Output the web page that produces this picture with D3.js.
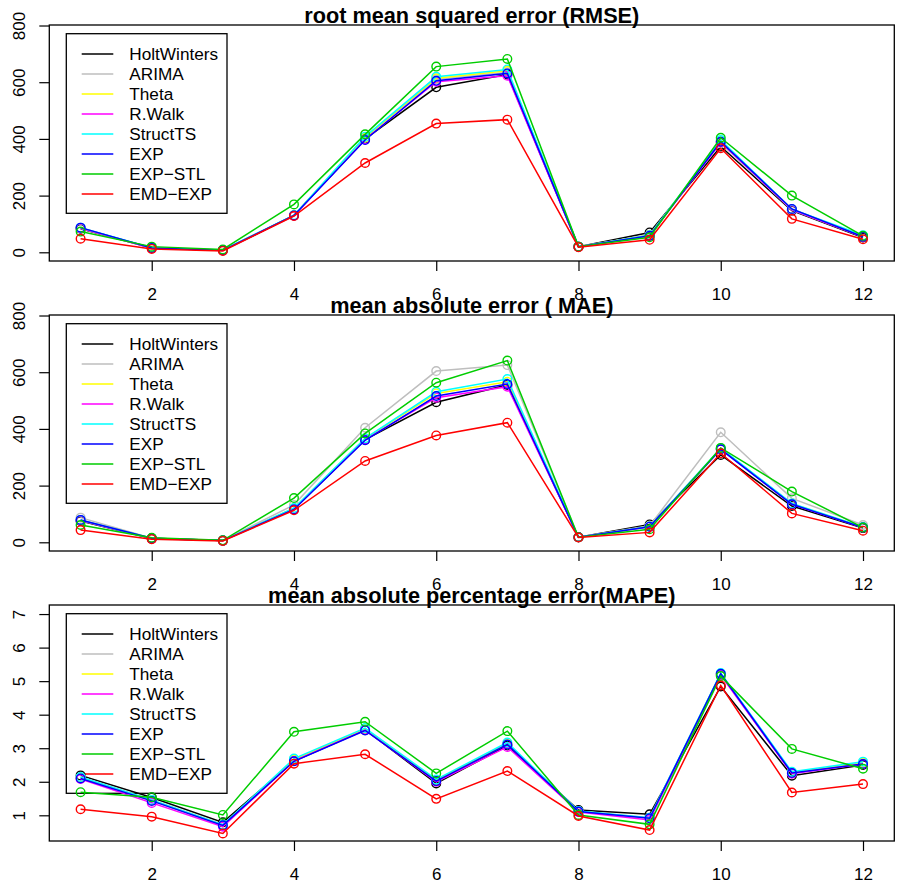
<!DOCTYPE html>
<html lang="en">
<head>
<meta charset="utf-8" />
<title>Forecast errors</title>
<style>
  * { margin: 0; padding: 0; }
  body { background: white; }
  svg { display: block; font-family: "Liberation Sans", Arial, sans-serif; }
  .box { fill: none; stroke: black; stroke-width: 1.3px; }
  .tick line { stroke: black; stroke-width: 1.2px; }
  .tick text { font-size: 17px; fill: black; }
  .title { font-size: 21.7px; font-weight: bold; }
  .legendText { font-size: 17.2px; }
  .series { fill: none; stroke-width: 1.5px; }
</style>
</head>
<body>
<script src="https://cdnjs.cloudflare.com/ajax/libs/d3/7.8.5/d3.min.js"></script>
<div id="chart"></div>
<script>

var horizons = [1, 2, 3, 4, 5, 6, 7, 8, 9, 10, 11, 12];
var methods = ["HoltWinters", "ARIMA", "Theta", "R.Walk", "StructTS", "EXP", "EXP\u2212STL", "EMD\u2212EXP"];
var colors = ["#000000", "#BEBEBE", "#FFFF00", "#FF00FF", "#00FFFF", "#0000FF", "#00CD00", "#FF0000"];
var xTicks = [2, 4, 6, 8, 10, 12];

// one row per method, same order as methods
var rmseValues = [
  [83, 15, 7, 130, 400, 582, 627, 20, 70, 373, 147, 52],
  [85, 15, 7, 130, 405, 610, 635, 20, 62, 385, 150, 55],
  [86, 15, 7, 130, 405, 614, 640, 20, 60, 392, 152, 57],
  [85, 14, 7, 129, 398, 602, 623, 19, 58, 388, 150, 55],
  [87, 16, 8, 131, 408, 619, 645, 20, 60, 396, 152, 60],
  [87, 15, 7, 130, 396, 605, 631, 20, 58, 390, 153, 55],
  [73, 20, 10, 169, 416, 655, 682, 20, 53, 404, 200, 58],
  [48, 12, 5, 128, 315, 454, 468, 18, 44, 367, 118, 46]
];
var maeValues = [
  [75, 13, 6, 118, 362, 494, 555, 18, 63, 308, 128, 50],
  [87, 14, 6, 132, 404, 604, 625, 18, 58, 388, 155, 61],
  [78, 14, 6, 120, 366, 525, 566, 18, 56, 330, 136, 53],
  [77, 13, 6, 118, 362, 510, 549, 18, 55, 328, 134, 52],
  [79, 14, 6, 121, 367, 531, 576, 18, 56, 332, 137, 54],
  [79, 14, 6, 116, 360, 516, 558, 18, 55, 328, 134, 52],
  [61, 16, 7, 156, 384, 563, 641, 18, 46, 333, 179, 52],
  [43, 11, 5, 113, 287, 377, 422, 17, 35, 314, 102, 41]
];
var mapeValues = [
  [2.19, 1.53, 0.79, 2.62, 3.55, 1.95, 3.08, 1.16, 1.03, 4.84, 2.18, 2.50],
  [2.14, 1.45, 0.72, 2.65, 3.58, 2.03, 3.12, 1.12, 0.93, 5.20, 2.25, 2.55],
  [2.12, 1.44, 0.71, 2.66, 3.58, 2.04, 3.13, 1.12, 0.91, 5.22, 2.27, 2.56],
  [2.08, 1.37, 0.66, 2.62, 3.54, 2.00, 3.04, 1.10, 0.86, 5.18, 2.24, 2.53],
  [2.14, 1.46, 0.72, 2.69, 3.60, 2.07, 3.17, 1.13, 0.93, 5.24, 2.30, 2.60],
  [2.10, 1.43, 0.70, 2.61, 3.53, 2.02, 3.11, 1.11, 0.91, 5.22, 2.26, 2.53],
  [1.69, 1.54, 1.01, 3.49, 3.79, 2.25, 3.51, 1.01, 0.73, 5.15, 2.98, 2.39],
  [1.18, 0.96, 0.46, 2.54, 2.82, 1.49, 2.32, 0.98, 0.56, 4.87, 1.68, 1.93]
];

var panels = [
  {title: "root mean squared error (RMSE)", values: rmseValues, ydom: [-30.7, 801.8], yticks: [0, 200, 400, 600, 800]},
  {title: "mean absolute error ( MAE)", values: maeValues, ydom: [-30.7, 801.8], yticks: [0, 200, 400, 600, 800]},
  {title: "mean absolute percentage error(MAPE)", values: mapeValues, ydom: [0.234, 7.27], yticks: [1, 2, 3, 4, 5, 6, 7]}
];

var W = 897, H = 881, panelH = 290;
var boxLeft = 49.3, boxRight = 894.3, boxTop = 25, boxBottom = 261;

var svg = d3.select("#chart").append("svg")
    .attr("width", W)
    .attr("height", H);

var x = d3.scaleLinear().domain([0.56, 12.44]).range([boxLeft, boxRight]);

panels.forEach(function(p, pi) {
  var g = svg.append("g").attr("transform", "translate(0," + (pi * panelH) + ")");
  var y = d3.scaleLinear().domain(p.ydom).range([boxBottom, boxTop]);

  // legend (drawn first, lines go over it)
  var lg = g.append("g");
  lg.append("rect")
    .attr("class", "box")
    .attr("x", 66.3).attr("y", 33.7)
    .attr("width", 160.7).attr("height", 179.6);
  methods.forEach(function(m, i) {
    var cy = 54 + i * 20;
    lg.append("line")
      .attr("x1", 81.7).attr("x2", 113.3)
      .attr("y1", cy).attr("y2", cy)
      .attr("stroke", colors[i]).attr("stroke-width", 1.6);
    lg.append("text")
      .attr("class", "legendText")
      .attr("x", 129.3).attr("y", cy + 6)
      .text(m);
  });

  // axes
  var xa = g.append("g")
      .attr("transform", "translate(0," + boxBottom + ")")
      .call(d3.axisBottom(x).tickValues(xTicks).tickSize(10).tickPadding(17));
  xa.select(".domain").remove();

  var ya = g.append("g")
      .attr("transform", "translate(" + boxLeft + ",0)")
      .call(d3.axisLeft(y).tickValues(p.yticks).tickSize(10).tickFormat(d3.format("d")));
  ya.select(".domain").remove();
  ya.selectAll(".tick text")
      .attr("x", 0).attr("dy", null)
      .attr("text-anchor", "middle")
      .attr("transform", "translate(-24,0) rotate(-90)");

  // series
  var line = d3.line()
      .x(function(d, i) { return x(horizons[i]); })
      .y(function(d) { return y(d); });

  p.values.forEach(function(vals, si) {
    g.append("path")
      .datum(vals)
      .attr("class", "series")
      .attr("stroke", colors[si])
      .attr("d", line);
    g.selectAll(".pt" + si)
      .data(vals)
      .enter().append("circle")
      .attr("class", "pt" + si)
      .attr("cx", function(d, i) { return x(horizons[i]); })
      .attr("cy", function(d) { return y(d); })
      .attr("r", 4.3)
      .attr("fill", "none")
      .attr("stroke", colors[si])
      .attr("stroke-width", 1.4);
  });

  g.append("rect")
    .attr("class", "box")
    .attr("x", boxLeft).attr("y", boxTop)
    .attr("width", boxRight - boxLeft).attr("height", boxBottom - boxTop);

  g.append("text")
    .attr("class", "title")
    .attr("x", (boxLeft + boxRight) / 2)
    .attr("y", 23)
    .attr("text-anchor", "middle")
    .text(p.title);
});

</script>
</body>
</html>
